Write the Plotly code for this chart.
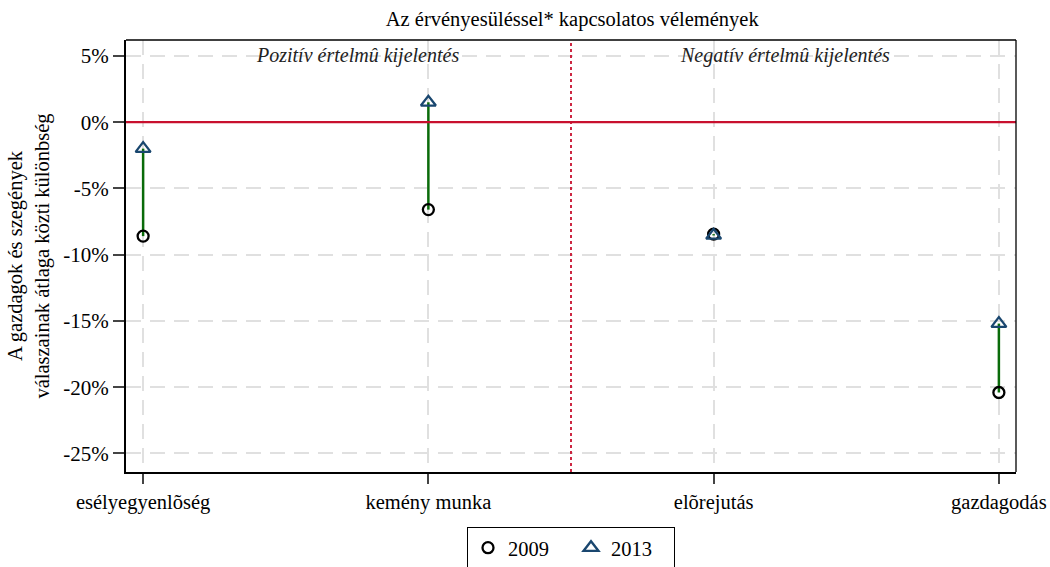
import plotly.graph_objects as go

categories = ["esélyegyenlõség", "kemény munka", "elõrejutás", "gazdagodás"]
vals_2009 = [-8.6, -6.6, -8.45, -20.4]
vals_2013 = [-2.0, 1.5, -8.55, -15.2]
y_ticks = [-25, -20, -15, -10, -5, 0, 5]
y_ticklabels = ["-25%", "-20%", "-15%", "-10%", "-5%", "0%", "5%"]

xs = list(range(len(categories)))
font_fam = "Liberation Serif, Times New Roman, serif"
red = "#c8102e"
grid = "#e0e0e0"

seg_x, seg_y = [], []
for x, a, b in zip(xs, vals_2009, vals_2013):
    seg_x += [x, x, None]
    seg_y += [a, b, None]

fig = go.Figure()
fig.add_trace(go.Scatter(x=seg_x, y=seg_y, mode="lines",
                         line=dict(color="#0a6b0a", width=2.5),
                         showlegend=False, hoverinfo="skip"))
fig.add_trace(go.Scatter(x=xs, y=vals_2009, mode="markers", name="2009",
                         marker=dict(symbol="circle-open", size=11, color="black",
                                     line=dict(width=2.3, color="black"))))
fig.add_trace(go.Scatter(x=xs, y=vals_2013, mode="markers", name="2013",
                         marker=dict(symbol="triangle-up-open", size=13, color="#1a476f",
                                     line=dict(width=2.3, color="#1a476f"))))

fig.add_shape(type="line", xref="paper", yref="y", x0=0, x1=1, y0=0, y1=0,
              line=dict(color=red, width=2.2))
fig.add_shape(type="line", xref="x", yref="paper", x0=1.5, x1=1.5, y0=0, y1=1,
              line=dict(color=red, width=1.8, dash="dot"))
# thin top and right frame
fig.add_shape(type="line", xref="paper", yref="paper", x0=0, x1=1, y0=1, y1=1,
              line=dict(color="black", width=1.3))
fig.add_shape(type="line", xref="paper", yref="paper", x0=1, x1=1, y0=0, y1=1,
              line=dict(color="black", width=1.3))

fig.add_annotation(x=0.75, y=5, xref="x", yref="y", text="<i>Pozitív értelmû kijelentés</i>",
                   showarrow=False, font=dict(family=font_fam, size=20, color="#222"))
fig.add_annotation(x=2.25, y=5, xref="x", yref="y", text="<i>Negatív értelmû kijelentés</i>",
                   showarrow=False, font=dict(family=font_fam, size=20, color="#222"))

fig.update_layout(
    width=1050, height=567,
    margin=dict(l=126, r=34, t=40, b=95, autoexpand=False),
    paper_bgcolor="white", plot_bgcolor="white",
    font=dict(family=font_fam, size=21, color="black"),
    title=dict(text="Az érvényesüléssel* kapcsolatos vélemények", x=0.545, xanchor="center",
               y=1 - 19 / 567, yanchor="middle", font=dict(family=font_fam, size=20.5, color="black")),
    xaxis=dict(tickvals=xs, ticktext=categories, range=[-0.06, 3.06], automargin=False,
               showgrid=True, gridcolor=grid, griddash="15px,9px", gridwidth=1.5,
               zeroline=False, showline=True, linecolor="black", linewidth=2,
               ticks="outside", ticklen=10, tickcolor="#444", tickwidth=1.5,
               tickfont=dict(size=20.5)),
    yaxis=dict(tickvals=y_ticks, ticktext=y_ticklabels, range=[-26.4, 6.2], automargin=False,
               showgrid=True, gridcolor=grid, griddash="15px,9px", gridwidth=1.5,
               zeroline=False, showline=True, linecolor="black", linewidth=2,
               ticks="outside", ticklen=11, tickcolor="#444", tickwidth=1.5,
               tickfont=dict(size=21),
               title=dict(text="A gazdagok és szegények<br>válaszainak átlaga közti különbség",
                          font=dict(size=20.5), standoff=8)),
    legend=dict(orientation="h", x=0.5, xanchor="center", y=-0.127, yanchor="top",
                bordercolor="black", borderwidth=1, font=dict(size=20.5),
                itemwidth=30, entrywidth=58),
)

fig.write_html("out.html", config={"displayModeBar": False},
               post_script="document.body.style.margin='0';document.body.style.padding='0';document.body.style.overflow='hidden';")
